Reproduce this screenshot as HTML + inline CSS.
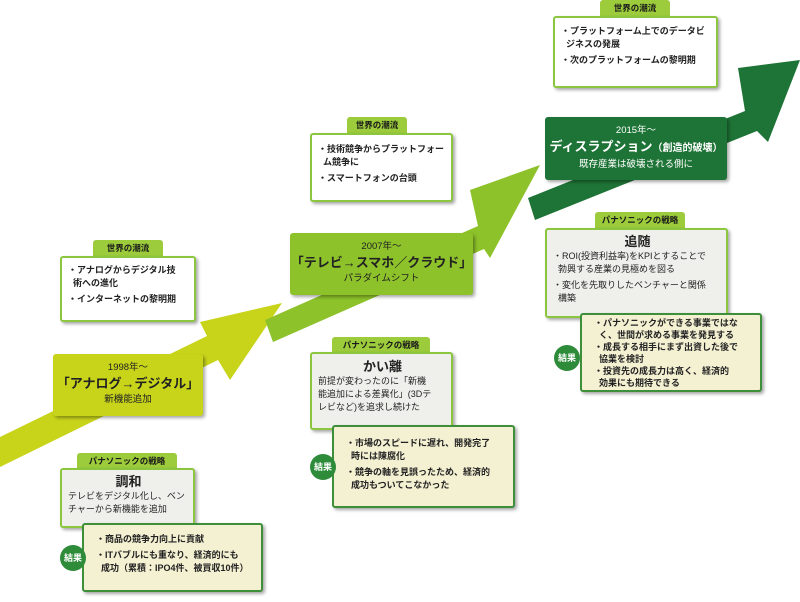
<!DOCTYPE html>
<html><head><meta charset="utf-8"><style>
*{margin:0;padding:0;box-sizing:border-box}
body{width:800px;height:602px;background:#fff;position:relative;overflow:hidden;font-family:"Liberation Sans","Noto Sans CJK JP",sans-serif;color:#222}
.a{position:absolute}
.tab{position:absolute;background:#9ccb3b;color:#1a1a1a;font-size:8.5px;font-weight:bold;text-align:center;border-radius:3px 3px 0 0;line-height:16px;white-space:nowrap}
.box{position:absolute;border:2px solid #8cc63f;border-radius:3px;background:#fff;box-shadow:2px 2px 3px rgba(0,0,0,.35);font-size:9px;font-weight:bold;line-height:13px;padding:6px 4px 0 6px;white-space:nowrap}
.st{background:#efefec;font-weight:normal;text-align:center}
.st b{display:block;font-size:13px;line-height:17px}
.st p{text-align:left}
.rs{position:absolute;border:2px solid #3e8f3a;border-radius:3px;background:#f4f0d2;box-shadow:2px 2px 3px rgba(0,0,0,.35);font-size:9px;font-weight:bold;line-height:13px;padding:5px 4px 0 12px;white-space:nowrap}
.c{position:absolute;width:26px;height:26px;border-radius:50%;background:#2e8b3a;color:#fff;font-size:9px;font-weight:bold;text-align:center;line-height:26px}
.ms{position:absolute;border-radius:3px;box-shadow:2px 2px 3px rgba(0,0,0,.35);text-align:center;font-size:9.5px;line-height:13px;padding-top:7px;white-space:nowrap}
.ms b{display:block;font-size:13px;line-height:19px}
p{margin-bottom:3px}
</style></head><body>
<svg class="a" style="left:0;top:0" width="800" height="602">
<polygon fill="#c8d41a" points="0,437 207,336 200,322 282,303 230,380 218,360 0,467"/>
<polygon fill="#8dc22a" points="265,320 478,226 470,190 540,165 490,258 484,249 273,342"/>
<polygon fill="#1e7436" points="528,198 745,111 738,68 800,60 768,142 757,131 535,220"/>
</svg>

<div class="tab" style="left:93px;top:240px;width:70px">世界の潮流</div>
<div class="box" style="left:60px;top:256px;width:136px;height:66px"><p>・アナログからデジタル技<br>&nbsp;&nbsp;術への進化</p><p>・インターネットの黎明期</p></div>
<div class="ms" style="left:53px;top:354px;width:150px;height:62px;background:#c8d41a"><div>1998年～</div><b>「アナログ→デジタル」</b><div>新機能追加</div></div>
<div class="tab" style="left:77px;top:453px;width:100px">パナソニックの戦略</div>
<div class="box st" style="left:60px;top:468px;width:135px;height:60px;padding-top:3px"><b>調和</b><p>テレビをデジタル化し、ベン<br>チャーから新機能を追加</p></div>
<div class="rs" style="left:82px;top:523px;width:181px;height:69px;padding-top:8px"><p>・商品の競争力向上に貢献</p><p>・ITバブルにも重なり、経済的にも<br>&nbsp;&nbsp;成功（累積：IPO4件、被買収10件）</p></div>
<div class="c" style="left:60px;top:545px">結果</div>

<div class="tab" style="left:347px;top:117px;width:60px">世界の潮流</div>
<div class="box" style="left:310px;top:133px;width:143px;height:69px;padding-top:8px"><p>・技術競争からプラットフォー<br>&nbsp;&nbsp;ム競争に</p><p>・スマートフォンの台頭</p></div>
<div class="ms" style="left:290px;top:233px;width:183px;height:62px;background:#8dc22a"><div>2007年～</div><b>「テレビ→スマホ／クラウド」</b><div>パラダイムシフト</div></div>
<div class="tab" style="left:332px;top:337px;width:98px">パナソニックの戦略</div>
<div class="box st" style="left:310px;top:352px;width:143px;height:78px;padding-top:4px"><b>かい離</b><p>前提が変わったのに「新機<br>能追加による差異化」(3Dテ<br>レビなど)を追求し続けた</p></div>
<div class="rs" style="left:332px;top:425px;width:183px;height:83px;padding-top:10px"><p>・市場のスピードに遅れ、開発完了<br>&nbsp;&nbsp;時には陳腐化</p><p>・競争の軸を見誤ったため、経済的<br>&nbsp;&nbsp;成功もついてこなかった</p></div>
<div class="c" style="left:310px;top:454px">結果</div>

<div class="tab" style="left:600px;top:0;width:70px">世界の潮流</div>
<div class="box" style="left:553px;top:16px;width:165px;height:72px;padding-top:7px"><p>・プラットフォーム上でのデータビ<br>&nbsp;&nbsp;ジネスの発展</p><p>・次のプラットフォームの黎明期</p></div>
<div class="ms" style="left:545px;top:117px;width:182px;height:63px;background:#1e7436;color:#fff"><div>2015年～</div><b>ディスラプション<span style="font-size:10px">（創造的破壊）</span></b><div>既存産業は破壊される側に</div></div>
<div class="tab" style="left:595px;top:212px;width:90px">パナソニックの戦略</div>
<div class="box st" style="left:545px;top:228px;width:183px;height:90px;padding-top:3px"><b>追随</b><p>・ROI(投資利益率)をKPIとすることで<br>&nbsp;&nbsp;勃興する産業の見極めを図る</p><p>・変化を先取りしたベンチャーと関係<br>&nbsp;&nbsp;構築</p></div>
<div class="rs" style="left:580px;top:313px;width:182px;height:79px;padding-top:3px;line-height:11.5px"><p style="margin-bottom:1px">・パナソニックができる事業ではな<br>&nbsp;&nbsp;く、世間が求める事業を発見する</p><p style="margin-bottom:1px">・成長する相手にまず出資した後で<br>&nbsp;&nbsp;協業を検討</p><p>・投資先の成長力は高く、経済的<br>&nbsp;&nbsp;効果にも期待できる</p></div>
<div class="c" style="left:554px;top:345px">結果</div>
</body></html>
